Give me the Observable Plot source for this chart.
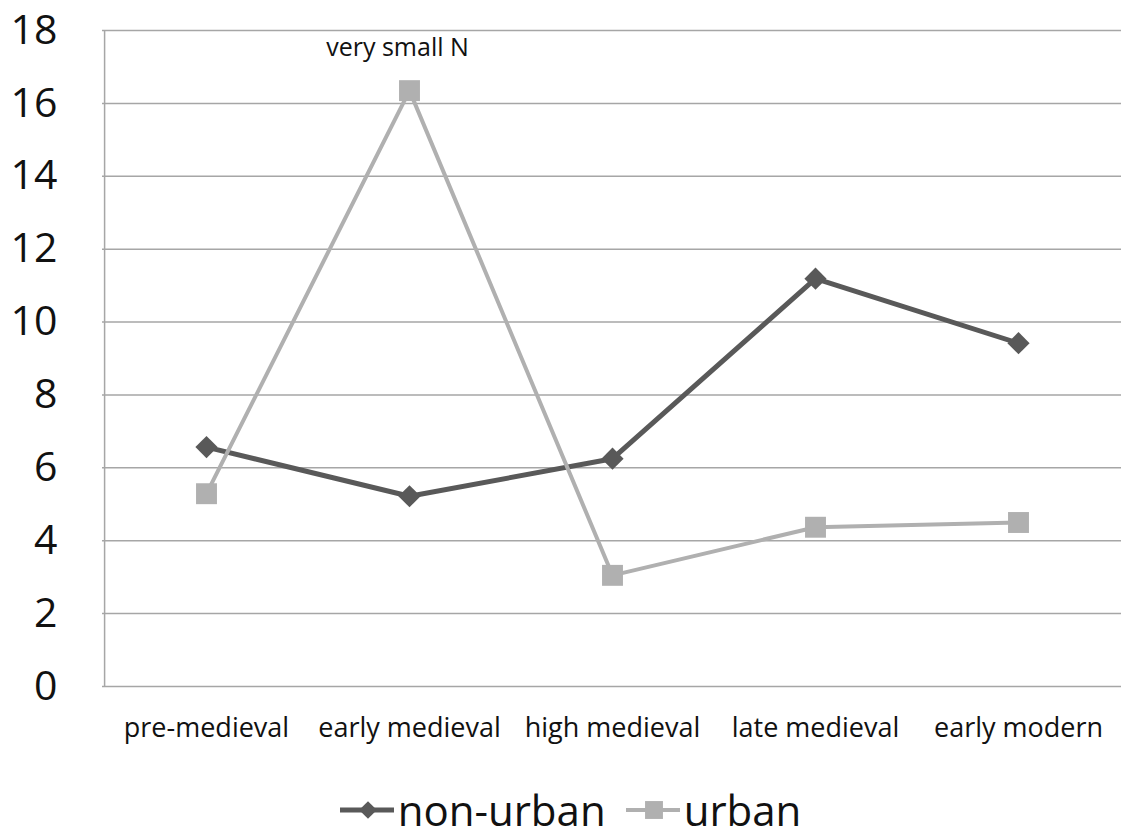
<!DOCTYPE html>
<html><head><meta charset="utf-8">
<script src="https://cdn.jsdelivr.net/npm/d3@7"></script>
<script src="https://cdn.jsdelivr.net/npm/@observablehq/plot@0.6"></script>
<style>
body{margin:0;background:#fff;font-family:"Open Sans",sans-serif;}
#legend{display:flex;justify-content:center;align-items:center;gap:20px;height:100px;padding-left:20px;box-sizing:border-box;}
.item{display:flex;align-items:center;font-size:42px;color:#111;line-height:1;}
.item svg{margin-right:4px;}
</style></head><body><div id="chart"></div><div id="legend"></div><script>
const periods = ["pre-medieval","early medieval","high medieval","late medieval","early modern"];
const nonUrban = [6.57,5.22,6.25,11.19,9.42];
const urban = [5.29,16.35,3.05,4.37,4.5];
const yTicks = [0,2,4,6,8,10,12,14,16,18];
const seriesNames = ["non-urban","urban"];
const seriesColors = ["#595959","#b0b0b0"];
const seriesSymbols = ["diamond2","square"];
const noteText = "very small N";
const notePeriod = "early medieval";
const noteY = 17.53;

const rows = [];
[nonUrban, urban].forEach((vals, s) => vals.forEach((v, i) => rows.push({period: periods[i], value: v, series: seriesNames[s]})));

const chart = Plot.plot({
  width: 1121, height: 760,
  marginTop: 30, marginBottom: 74, marginLeft: 102, marginRight: 0,
  style: {fontFamily: '"Open Sans", sans-serif', background: "#fff", color: "#111"},
  x: {type: "point", domain: periods, padding: 0.5, label: null},
  y: {domain: [0, 18], ticks: yTicks, label: null},
  color: {domain: seriesNames, range: seriesColors},
  marks: [
    Plot.ruleY(yTicks, {stroke: "#a6a6a6", strokeWidth: 1.5}),
    Plot.ruleX([0], {x: () => periods[0], dx: -101.9, y1: 0, y2: 18, stroke: "#a6a6a6", strokeWidth: 1.5}),
    Plot.axisY({ticks: yTicks, tickSize: 0, tickPadding: 45, fontSize: 41, tickFormat: d => String(d)}),
    Plot.axisX({tickSize: 0, tickPadding: 31, fontSize: 27}),
    Plot.line(rows.filter(d => d.series === seriesNames[0]), {x: "period", y: "value", stroke: seriesColors[0], strokeWidth: 5}),
    Plot.dot(rows.filter(d => d.series === seriesNames[0]), {x: "period", y: "value", fill: seriesColors[0], symbol: seriesSymbols[0], r: 10}),
    Plot.line(rows.filter(d => d.series === seriesNames[1]), {x: "period", y: "value", stroke: seriesColors[1], strokeWidth: 4}),
    Plot.dot(rows.filter(d => d.series === seriesNames[1]), {x: "period", y: "value", fill: seriesColors[1], symbol: seriesSymbols[1], r: 11.8}),
    Plot.text([noteText], {x: () => notePeriod, y: () => noteY, text: d => d, fontSize: 25, dx: -12, fill: "#111"})
  ]
});
document.getElementById("chart").appendChild(chart);

const legend = document.getElementById("legend");
seriesNames.forEach((name, i) => {
  const item = document.createElement("div");
  item.className = "item";
  const ns = "http://www.w3.org/2000/svg";
  const sv = document.createElementNS(ns, "svg");
  sv.setAttribute("width", 54); sv.setAttribute("height", 30);
  const ln = document.createElementNS(ns, "line");
  ln.setAttribute("x1", 0); ln.setAttribute("x2", 54); ln.setAttribute("y1", 15); ln.setAttribute("y2", 15);
  ln.setAttribute("stroke", seriesColors[i]); ln.setAttribute("stroke-width", i === 0 ? 5 : 4);
  sv.appendChild(ln);
  const p = document.createElementNS(ns, "path");
  const sym = i === 0 ? d3.symbol(d3.symbolDiamond2, 200) : d3.symbol(d3.symbolSquare, 320);
  p.setAttribute("d", sym()); p.setAttribute("transform", "translate(28,15)"); p.setAttribute("fill", seriesColors[i]);
  sv.appendChild(p);
  item.appendChild(sv);
  const t = document.createElement("span"); t.textContent = name;
  item.appendChild(t);
  legend.appendChild(item);
});
</script></body></html>
